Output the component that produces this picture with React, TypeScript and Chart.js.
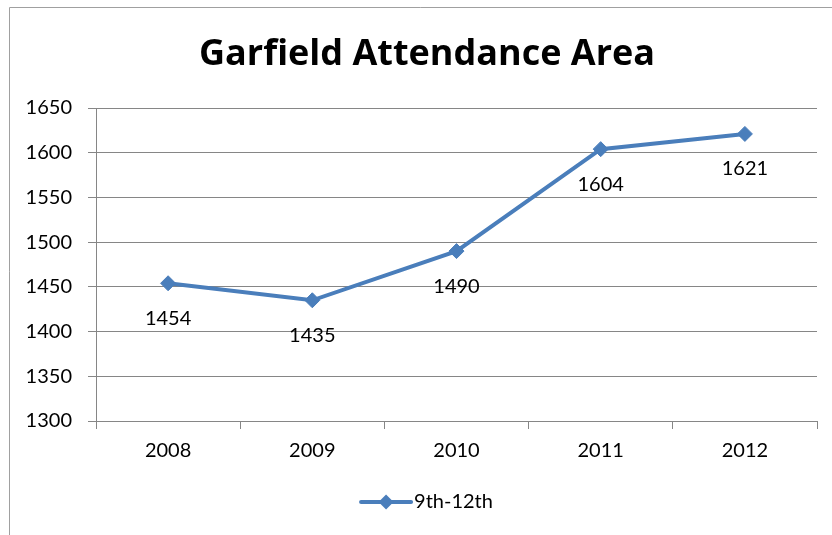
import React, { useEffect, useRef } from "react";
import { Chart, registerables } from "chart.js";

Chart.register(...registerables);

const categories = ["2008", "2009", "2010", "2011", "2012"];
const seriesName = "9th-12th";
const values = [1454, 1435, 1490, 1604, 1621];
const yMin = 1300;
const yMax = 1650;
const yStep = 50;
const titleText = "Garfield Attendance Area";

const FONT = "Lato";
const TITLE_FONT = "'Open Sans'";
const BLUE = "#4A7EBB";
const GRID = "#868686";

const framePlugin = {
  id: "frame",
  beforeDraw(chart: any) {
    const ctx = chart.ctx;
    ctx.save();
    ctx.fillStyle = "#ffffff";
    ctx.fillRect(0, 0, chart.width, chart.height);
    ctx.strokeStyle = "#a0a0a0";
    ctx.lineWidth = 1;
    ctx.beginPath();
    ctx.moveTo(9.5, chart.height);
    ctx.lineTo(9.5, 7.5);
    ctx.lineTo(chart.width, 7.5);
    ctx.stroke();
    ctx.restore();
  },
  afterDraw(chart: any) {
    const ctx = chart.ctx;
    ctx.save();
    // title
    ctx.fillStyle = "#000";
    ctx.font = `bold 36px ${TITLE_FONT}`;
    ctx.textAlign = "center";
    ctx.textBaseline = "middle";
    const cx = chart.width / 2 + 11;
    ctx.fillText(titleText, cx, 55);
    // legend
    ctx.font = `20px ${FONT}`;
    const tw = ctx.measureText(seriesName).width;
    const lineLen = 50;
    const gap = 3;
    const total = lineLen + gap + tw;
    const sx = cx - total / 2;
    const ly = 502;
    ctx.strokeStyle = BLUE;
    ctx.lineWidth = 4;
    ctx.lineCap = "round";
    ctx.beginPath();
    ctx.moveTo(sx, ly);
    ctx.lineTo(sx + lineLen, ly);
    ctx.stroke();
    ctx.fillStyle = BLUE;
    const dx = sx + lineLen / 2;
    const r = 7.5;
    ctx.beginPath();
    ctx.moveTo(dx, ly - r);
    ctx.lineTo(dx + r, ly);
    ctx.lineTo(dx, ly + r);
    ctx.lineTo(dx - r, ly);
    ctx.closePath();
    ctx.fill();
    ctx.fillStyle = "#000";
    ctx.textAlign = "left";
    ctx.fillText(seriesName, sx + lineLen + gap, ly);
    ctx.restore();
  },
  afterDatasetsDraw(chart: any) {
    const ctx = chart.ctx;
    const meta = chart.getDatasetMeta(0);
    ctx.save();
    ctx.fillStyle = "#000";
    ctx.font = `20px ${FONT}`;
    ctx.textAlign = "center";
    ctx.textBaseline = "middle";
    meta.data.forEach((pt: any, i: number) => {
      ctx.fillText(String(values[i]), pt.x, pt.y + 35);
    });
    ctx.restore();
  },
};

export default function App() {
  const ref = useRef<HTMLCanvasElement>(null);
  useEffect(() => {
    document.body.style.margin = "0";
    const chart = new Chart(ref.current!, {
      type: "line",
      data: {
        labels: categories,
        datasets: [
          {
            label: seriesName,
            data: values,
            borderColor: BLUE,
            backgroundColor: BLUE,
            borderWidth: 4,
            pointStyle: "rectRot",
            pointRadius: 7.5,
            pointHoverRadius: 7.5,
            pointBackgroundColor: BLUE,
            pointBorderColor: BLUE,
            pointBorderWidth: 1,
            tension: 0,
          },
        ],
      },
      options: {
        animation: false,
        responsive: false,
        events: [],
        layout: { padding: { top: 108, left: 10, right: 15, bottom: 64 } },
        plugins: {
          legend: { display: false },
          title: { display: false },
          tooltip: { enabled: false },
        },
        scales: {
          x: {
            type: "category",
            offset: true,
            grid: {
              offset: true,
              drawOnChartArea: false,
              drawTicks: true,
              tickLength: 8,
              color: GRID,
            },
            border: { display: true, color: GRID, width: 1 },
            ticks: {
              color: "#000",
              font: { family: FONT, size: 20 },
              padding: 10,
              maxRotation: 0,
            },
            afterFit(scale: any) {
              scale.height = 50;
            },
          },
          y: {
            min: yMin,
            max: yMax,
            grid: {
              color: GRID,
              drawTicks: true,
              tickLength: 8,
            },
            border: { display: true, color: GRID, width: 1 },
            ticks: {
              stepSize: yStep,
              color: "#000",
              font: { family: FONT, size: 20 },
              padding: 16,
              callback: (v: any) => String(v),
            },
            afterFit(scale: any) {
              scale.width = 86;
            },
          },
        },
      },
      plugins: [framePlugin],
    });
    return () => chart.destroy();
  }, []);
  return (
    <div style={{ width: 832, height: 535 }}>
      <canvas ref={ref} width={832} height={535} style={{ display: "block" }} />
    </div>
  );
}
